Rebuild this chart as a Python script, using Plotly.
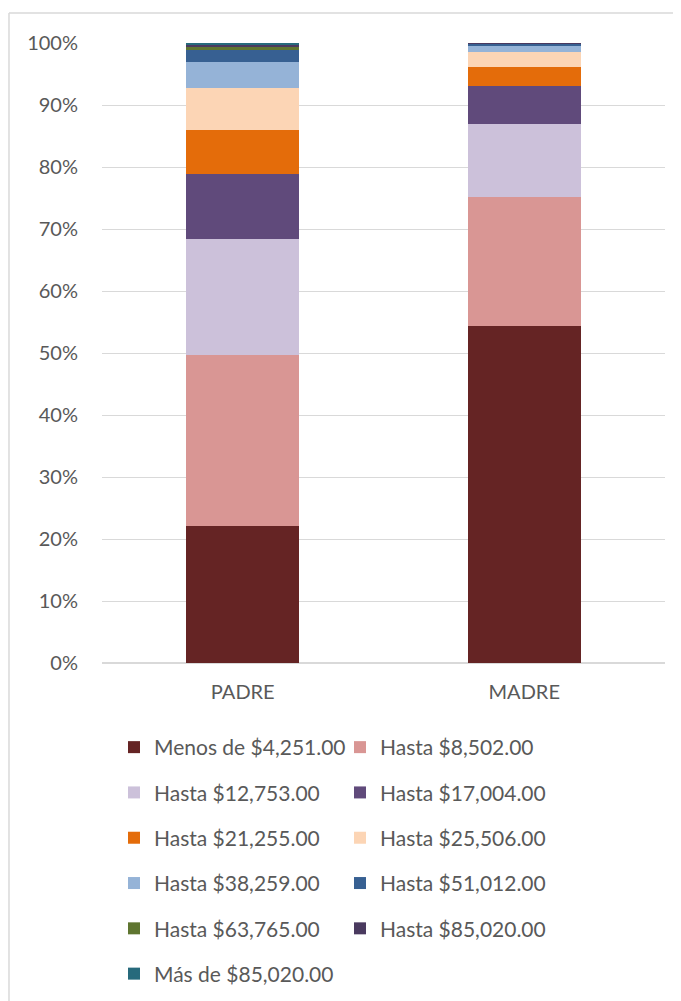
import plotly.graph_objects as go

# categories and income brackets
categorias = ['PADRE', 'MADRE']
rangos = ['Menos de $4,251.00', 'Hasta $8,502.00', 'Hasta $12,753.00', 'Hasta $17,004.00',
          'Hasta $21,255.00', 'Hasta $25,506.00', 'Hasta $38,259.00', 'Hasta $51,012.00',
          'Hasta $63,765.00', 'Hasta $85,020.00', 'Más de $85,020.00']

# percentages per bracket
padre = [22.1, 27.6, 18.7, 10.5, 7.1, 6.8, 4.1, 1.9, 0.7, 0.3, 0.2]
madre = [54.4, 20.8, 11.8, 6.1, 3.0, 2.4, 1.1, 0.3, 0.05, 0.05, 0.0]

colores = ['#652424', '#D99694', '#CCC1DA', '#604A7B', '#E46C0A', '#FCD5B5',
           '#95B3D7', '#376092', '#5F7530', '#4A3A5F', '#276A7C']

fig = go.Figure()

for i, rango in enumerate(rangos):
    fig.add_trace(go.Bar(
        x=categorias,
        y=[padre[i], madre[i]],
        name=rango,
        marker=dict(color=colores[i], line=dict(width=0)),
        legend='legend' if i % 2 == 0 else 'legend2',
        legendgroup=rango,
    ))

texto = '#595959'
leyenda = dict(font=dict(family='Lato', size=21, color=texto),
               orientation='v', traceorder='grouped', tracegroupgap=15,
               yanchor='top', y=-0.1032, bgcolor='rgba(0,0,0,0)')

# page body adds an 8px offset, so the figure is a bit smaller than the window
fig.update_layout(
    width=673, height=993,
    barmode='stack', bargap=0.6,
    plot_bgcolor='white', paper_bgcolor='white',
    margin=dict(l=94, r=16, t=35, b=338, autoexpand=False),
    font=dict(family='Lato', color=texto),
    showlegend=True,
    legend=dict(leyenda, x=0.0213),
    legend2=dict(leyenda, x=0.4227),
    xaxis=dict(tickfont=dict(size=20, color=texto), showline=False, ticks='outside',
               ticklen=11, tickcolor='white'),
    yaxis=dict(range=[0, 100], dtick=10, ticksuffix='%', showgrid=True,
               gridcolor='#D9D9D9', gridwidth=1, zeroline=True, zerolinecolor='#D9D9D9',
               tickfont=dict(size=20, color=texto), ticks='outside', ticklen=19,
               tickcolor='white'),
)

# chart area border (top and left edges visible)
fig.add_shape(type='line', xref='paper', yref='paper', x0=-0.1652, x1=1.2, y0=1.0484, y1=1.0484,
              line=dict(color='#D9D9D9', width=1.5))
fig.add_shape(type='line', xref='paper', yref='paper', x0=-0.1652, x1=-0.1652, y0=1.0484, y1=-0.6,
              line=dict(color='#D9D9D9', width=1.5))

fig.write_html('out.html')
